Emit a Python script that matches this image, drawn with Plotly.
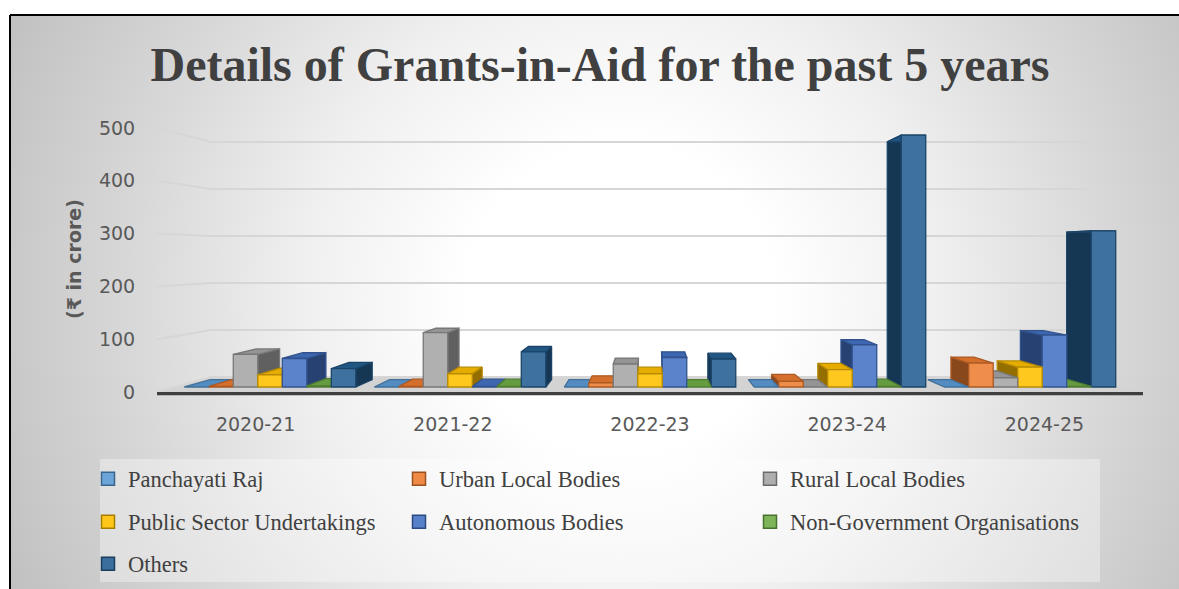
import base64
import plotly.graph_objects as go

# ---- data (₹ in crore) ----
years = ["2020-21", "2021-22", "2022-23", "2023-24", "2024-25"]
series_names = [
    "Panchayati Raj",
    "Urban Local Bodies",
    "Rural Local Bodies",
    "Public Sector Undertakings",
    "Autonomous Bodies",
    "Non-Government Organisations",
    "Others",
]
panchayati_raj = [0, 0, 0, 0, 0]
urban_local_bodies = [1, 1, 8, 11, 47]
rural_local_bodies = [64, 107, 45, 0, 18]
public_sector_undertakings = [24, 26, 26, 34, 39]
autonomous_bodies = [56, 1, 58, 83, 102]
non_government_organisations = [2, 1, 0, 1, 1]
others = [36, 69, 55, 495, 307]
y_ticks = [0, 100, 200, 300, 400, 500]

series_values = [
    panchayati_raj,
    urban_local_bodies,
    rural_local_bodies,
    public_sector_undertakings,
    autonomous_bodies,
    non_government_organisations,
    others,
]
series_colors = ["#5B9BD5", "#ED7D31", "#A5A5A5", "#FFC000", "#4472C4", "#70AD47", "#255E91"]

# ---- canvas geometry ----
FIG_W, FIG_H = 1179, 589
M_L, M_R, M_T, M_B = 157, 36, 118, 189
PLOT_W = FIG_W - M_L - M_R
PLOT_H = FIG_H - M_T - M_B
PX_PER_UNIT = 0.528          # vertical pixels per crore on the front plane
ZERO_PX = 392                # pixel row of the value 0 on the front plane
Y_MIN = -(M_T + PLOT_H - ZERO_PX) / PX_PER_UNIT
Y_MAX = (ZERO_PX - M_T) / PX_PER_UNIT


def px_x(px):
    return (px - M_L) / PLOT_W


def px_y(py):
    return (M_T + PLOT_H - py) / PLOT_H


# ---- simple perspective: depth d in [0, 1] shrinks toward the eye point ----
XC = 2.0                      # horizontal eye position (category units)
VC = (ZERO_PX - 255) / PX_PER_UNIT   # eye level (value units)
SHRINK = 0.11                 # scale loss from front (d=0) to back wall (d=1)
D_FRONT, D_BACK = 0.333, 0.82
BAR_W = 0.129


def proj(x, v, d):
    s = 1 - SHRINK * d
    return XC + (x - XC) * s, VC + (v - VC) * s


def poly(points):
    xs, ys = [], []
    for x, v, d in points + points[:1]:
        px, pv = proj(x, v, d)
        xs.append(px)
        ys.append(pv)
    return xs, ys


def shade(hex_color, f):
    h = hex_color.lstrip("#")
    r, g, b = (int(h[i:i + 2], 16) for i in (0, 2, 4))
    if f <= 1:
        r, g, b = r * f, g * f, b * f
    else:
        t = f - 1
        r, g, b = r + (255 - r) * t, g + (255 - g) * t, b + (255 - b) * t
    return "rgb(%d,%d,%d)" % (round(r), round(g), round(b))


def face(points, fill, edge):
    xs, ys = poly(points)
    return go.Scatter(
        x=xs, y=ys, mode="lines", fill="toself", fillcolor=fill,
        line=dict(color=edge, width=1.3), hoverinfo="skip", showlegend=False,
    )


fig = go.Figure()

# floor slab
X_LO, X_HI = -0.5, len(years) - 0.5
fx, fy = poly([(X_LO, 0, 0), (X_HI, 0, 0), (X_HI, 0, 1), (X_LO, 0, 1)])
fig.add_trace(go.Scatter(x=fx, y=fy, mode="lines", fill="toself", fillcolor="#d3d3d3",
                         line=dict(color="#d3d3d3", width=0), hoverinfo="skip", showlegend=False))

# gridlines on the back wall and the left side wall
gx, gy = [], []
for t in y_ticks:
    for a, b in (((X_LO, t, 0), (X_LO, t, 1)), ((X_LO, t, 1), (X_HI, t, 1))):
        p0, p1 = proj(*a), proj(*b)
        gx += [p0[0], p1[0], None]
        gy += [p0[1], p1[1], None]
fig.add_trace(go.Scatter(x=gx, y=gy, mode="lines", line=dict(color="#d6d6d6", width=2),
                         hoverinfo="skip", showlegend=False))

# floor front edge
ex, ey = poly([(X_LO, -6, 0), (X_HI, -6, 0), (X_HI, 0, 0), (X_LO, 0, 0)])
fig.add_trace(go.Scatter(x=ex, y=ey, mode="lines", fill="toself", fillcolor="#3f3f3f",
                         line=dict(color="#3f3f3f", width=0), hoverinfo="skip", showlegend=False))

# 3-D columns, painted from the outside in so inner columns cover outer side faces
bars = []
n_series = len(series_values)
for si, vals in enumerate(series_values):
    for ci, v in enumerate(vals):
        xmid = ci + (si - (n_series - 1) / 2) * BAR_W
        bars.append((abs(xmid - XC), xmid, v, series_colors[si]))
bars.sort(key=lambda b: -b[0])

for _, xmid, v, col in bars:
    x0, x1 = xmid - BAR_W / 2, xmid + BAR_W / 2
    edge = shade(col, 0.72)
    if x1 < XC:
        sx = x1
    elif x0 > XC:
        sx = x0
    else:
        sx = None
    if sx is not None and v > 0:
        fig.add_trace(face([(sx, 0, D_FRONT), (sx, v, D_FRONT), (sx, v, D_BACK), (sx, 0, D_BACK)],
                           shade(col, 0.58), edge))
    fig.add_trace(face([(x0, v, D_FRONT), (x1, v, D_FRONT), (x1, v, D_BACK), (x0, v, D_BACK)],
                       shade(col, 0.9), edge))
    if v > 0:
        fig.add_trace(face([(x0, 0, D_FRONT), (x1, 0, D_FRONT), (x1, v, D_FRONT), (x0, v, D_FRONT)],
                           shade(col, 1.12), edge))

# legend entries, one small legend per slot to reproduce the three-column layout
legend_slots = [(88, 479), (399, 479), (750, 479), (88, 522), (399, 522), (750, 522), (88, 564)]
legend_layouts = {}
for k, (name, col) in enumerate(zip(series_names, series_colors)):
    lid = "legend" if k == 0 else "legend%d" % (k + 1)
    fig.add_trace(go.Scatter(
        x=[None], y=[None], mode="markers", name=name, legend=lid,
        marker=dict(symbol="square", size=13, color=shade(col, 1.1),
                    line=dict(color=shade(col, 0.65), width=1.5)),
    ))
    lx, ly = legend_slots[k]
    legend_layouts[lid] = dict(
        x=px_x(lx), y=px_y(ly), xanchor="left", yanchor="middle",
        bgcolor="rgba(0,0,0,0)", borderwidth=0, itemwidth=30,
        font=dict(family="Liberation Serif, Times New Roman, serif", size=22.5, color="#404040"),
    )

# chart-area background: radial grey fill with a black frame and a pale legend panel
svg = f"""<svg xmlns="http://www.w3.org/2000/svg" width="{FIG_W}" height="{FIG_H}" viewBox="0 0 {FIG_W} {FIG_H}">
<defs><radialGradient id="g" cx="620" cy="300" r="700" gradientUnits="userSpaceOnUse">
<stop offset="0" stop-color="#ffffff"/><stop offset="0.22" stop-color="#ffffff"/>
<stop offset="0.45" stop-color="#f0f0f0"/><stop offset="0.7" stop-color="#d8d8d8"/>
<stop offset="0.88" stop-color="#c8c8c8"/><stop offset="1" stop-color="#bdbdbd"/>
</radialGradient></defs>
<rect width="{FIG_W}" height="{FIG_H}" fill="#ffffff"/>
<rect x="11" y="16" width="{FIG_W - 11}" height="{FIG_H - 16}" fill="url(#g)"/>
<line x1="10" y1="15" x2="{FIG_W}" y2="15" stroke="#000" stroke-width="2"/>
<line x1="10" y1="15" x2="10" y2="{FIG_H}" stroke="#000" stroke-width="2"/>
<rect x="100" y="459" width="1000" height="123" fill="#ffffff" fill-opacity="0.35"/>
</svg>"""
bg_src = "data:image/svg+xml;base64," + base64.b64encode(svg.encode()).decode()

fig.update_layout(
    width=FIG_W, height=FIG_H,
    margin=dict(l=M_L, r=M_R, t=M_T, b=M_B, autoexpand=False),
    paper_bgcolor="#ffffff", plot_bgcolor="rgba(0,0,0,0)",
    images=[dict(source=bg_src, xref="paper", yref="paper",
                 x=px_x(0), y=px_y(0), sizex=FIG_W / PLOT_W, sizey=FIG_H / PLOT_H,
                 xanchor="left", yanchor="top", sizing="stretch", layer="below")],
    title=dict(text="<b>Details of Grants-in-Aid for the past 5 years</b>",
               x=600 / FIG_W, xanchor="center", y=1 - 64 / FIG_H, yanchor="middle",
               font=dict(family="Liberation Serif, Times New Roman, serif", size=48, color="#404040")),
    xaxis=dict(range=[X_LO, X_HI], tickvals=list(range(len(years))), ticktext=years,
               showgrid=False, zeroline=False, showline=False,
               ticks="outside", ticklen=7, tickcolor="rgba(0,0,0,0)",
               tickfont=dict(family="DejaVu Sans", size=19, color="#595959"), fixedrange=True),
    yaxis=dict(range=[Y_MIN, Y_MAX], tickvals=y_ticks,
               showgrid=False, zeroline=False, showline=False,
               ticks="outside", ticklen=17, tickcolor="rgba(0,0,0,0)",
               tickfont=dict(family="DejaVu Sans", size=19, color="#595959"),
               title=dict(text="<b>(₹ in crore)</b>", standoff=12,
                          font=dict(family="DejaVu Sans", size=19, color="#595959")),
               fixedrange=True),
    showlegend=True,
    **legend_layouts,
)

fig.write_html("out.html")
